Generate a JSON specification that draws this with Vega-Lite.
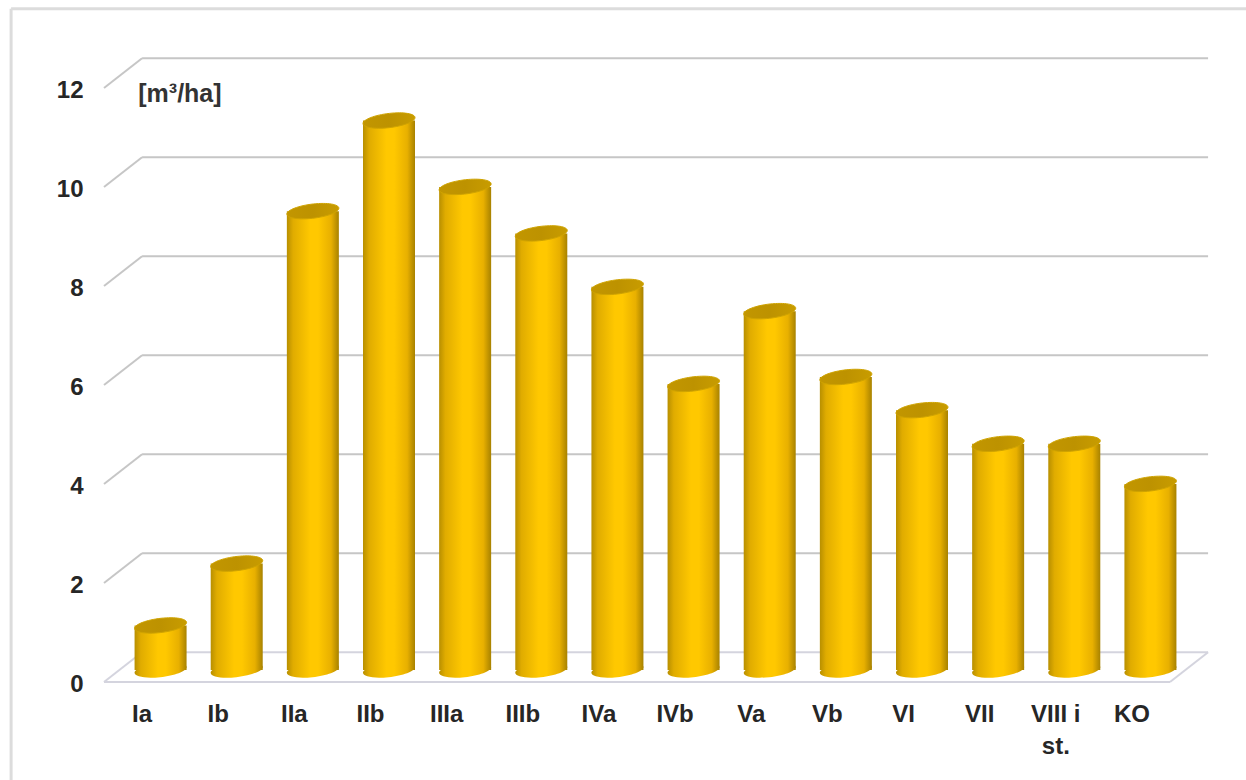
{
"$schema":"https://vega.github.io/schema/vega-lite/v6.json",
"width":1066,"height":594,
"autosize":{"type":"none"},
"padding":{"left":104,"top":88,"right":76,"bottom":98},
"background":"white",
"view":{"stroke":null},
"datasets":{
"bars":[
{"cls":"Ia","v":0.9},{"cls":"Ib","v":2.15},{"cls":"IIa","v":9.27},{"cls":"IIb","v":11.1},{"cls":"IIIa","v":9.76},{"cls":"IIIb","v":8.82},{"cls":"IVa","v":7.74},{"cls":"IVb","v":5.78},{"cls":"Va","v":7.25},{"cls":"Vb","v":5.92},{"cls":"VI","v":5.25},{"cls":"VII","v":4.57},{"cls":"VIII i st.","v":4.57},{"cls":"KO","v":3.76}],
"grid":[
{"a":0.5,"b":14.5,"p":2.6,"q":2.6},{"a":0.5,"b":14.5,"p":4.6,"q":4.6},{"a":0.5,"b":14.5,"p":6.6,"q":6.6},{"a":0.5,"b":14.5,"p":8.6,"q":8.6},{"a":0.5,"b":14.5,"p":10.6,"q":10.6},{"a":0.5,"b":14.5,"p":12.6,"q":12.6},
{"a":0,"b":0.5,"p":2,"q":2.6},{"a":0,"b":0.5,"p":4,"q":4.6},{"a":0,"b":0.5,"p":6,"q":6.6},{"a":0,"b":0.5,"p":8,"q":8.6},{"a":0,"b":0.5,"p":10,"q":10.6},{"a":0,"b":0.5,"p":12,"q":12.6}],
"floor":[
{"a":0.5,"b":14.5,"p":0.6,"q":0.6},{"a":0,"b":14,"p":0,"q":0},{"a":0,"b":0.5,"p":0,"q":0.6},{"a":14,"b":14.5,"p":0,"q":0.6}],
"frame":[{"a":-1.22,"b":15,"p":13.6,"q":13.6},{"a":-1.22,"b":-1.22,"p":13.6,"q":-1.98}]
},
"layer":[
{"data":{"name":"frame"},"mark":{"type":"rule","stroke":"#dcdcdc","strokeWidth":3,"clip":false},
 "encoding":{"x":{"field":"a","type":"quantitative","scale":{"domain":[0,14]},"axis":null},"x2":{"field":"b"},"y":{"field":"p","type":"quantitative","scale":{"domain":[0,12]},
  "axis":{"title":null,"domain":false,"ticks":false,"grid":false,"values":[0,2,4,6,8,10,12],"labelFont":"Liberation Sans","labelFontWeight":"bold","labelFontSize":24,"labelColor":"#262626","labelPadding":21,"labelOffset":2}},"y2":{"field":"q"}}},
{"data":{"name":"grid"},"mark":{"type":"rule","stroke":"#c6c6c6","strokeWidth":2},
 "encoding":{"x":{"field":"a","type":"quantitative","scale":{"domain":[0,14]},"axis":null},"x2":{"field":"b"},"y":{"field":"p","type":"quantitative"},"y2":{"field":"q"}}},
{"data":{"name":"floor"},"mark":{"type":"rule","stroke":"#d4d4de","strokeWidth":2},
 "encoding":{"x":{"field":"a","type":"quantitative","scale":{"domain":[0,14]},"axis":null},"x2":{"field":"b"},"y":{"field":"p","type":"quantitative"},"y2":{"field":"q"}}},
{"data":{"name":"bars"},"mark":{"type":"point","filled":true,"opacity":1,"size":2704,"xOffset":18.5,"yOffset":-12,
  "shape":"M-1,0.11 A1,0.27 -7 1 1 1,-0.11 A1,0.27 -7 1 1 -1,0.11 Z",
  "fill":{"gradient":"linear","x1":0,"y1":0,"x2":1,"y2":0,"stops":[{"offset":0,"color":"#b88f00"},{"offset":0.12,"color":"#e0ac00"},{"offset":0.45,"color":"#ffc800"},{"offset":0.6,"color":"#ffc800"},{"offset":0.85,"color":"#e8b000"},{"offset":1,"color":"#a88200"}]}},
 "encoding":{"x":{"field":"cls","type":"nominal","sort":null,"scale":{"type":"band","paddingInner":0,"paddingOuter":0},"axis":null},"y":{"datum":0,"type":"quantitative"}}},
{"data":{"name":"bars"},"mark":{"type":"bar","width":52,"xOffset":18.5,"yOffset":-12,"y2Offset":-12,
  "fill":{"gradient":"linear","x1":0,"y1":0,"x2":1,"y2":0,"stops":[{"offset":0,"color":"#b88f00"},{"offset":0.12,"color":"#e0ac00"},{"offset":0.45,"color":"#ffc800"},{"offset":0.6,"color":"#ffc800"},{"offset":0.85,"color":"#e8b000"},{"offset":1,"color":"#a88200"}]}},
 "encoding":{"x":{"field":"cls","type":"nominal","sort":null,"scale":{"type":"band","paddingInner":0,"paddingOuter":0},
   "axis":{"title":null,"domain":false,"ticks":false,"labelAngle":0,"labelFont":"Liberation Sans","labelFontWeight":"bold","labelFontSize":24,"labelColor":"#262626","labelPadding":20,"labelLineHeight":32,"labelExpr":"datum.value=='VIII i st.'?['VIII i','st.']:datum.value"}},
  "y":{"field":"v","type":"quantitative"}}},
{"data":{"name":"bars"},"mark":{"type":"point","filled":true,"opacity":1,"size":2704,"xOffset":18.5,"yOffset":-12,"stroke":"#cfa300","strokeWidth":1,
  "shape":"M-1,0.11 A1,0.27 -7 1 1 1,-0.11 A1,0.27 -7 1 1 -1,0.11 Z",
  "fill":{"gradient":"linear","x1":0,"y1":0,"x2":1,"y2":0,"stops":[{"offset":0,"color":"#c29600"},{"offset":0.5,"color":"#bd9200"},{"offset":1,"color":"#c89c00"}]}},
 "encoding":{"x":{"field":"cls","type":"nominal","sort":null,"scale":{"type":"band","paddingInner":0,"paddingOuter":0},"axis":null},"y":{"field":"v","type":"quantitative"}}},
{"data":{"values":[{"a":0.45,"p":11.88,"t":"[m³/ha]"}]},"mark":{"type":"text","align":"left","baseline":"middle","font":"Liberation Sans","fontWeight":"bold","fontSize":25,"color":"#333333"},
 "encoding":{"x":{"field":"a","type":"quantitative","scale":{"domain":[0,14]},"axis":null},"y":{"field":"p","type":"quantitative"},"text":{"field":"t"}}}
],
"resolve":{"scale":{"x":"independent"}}
}
